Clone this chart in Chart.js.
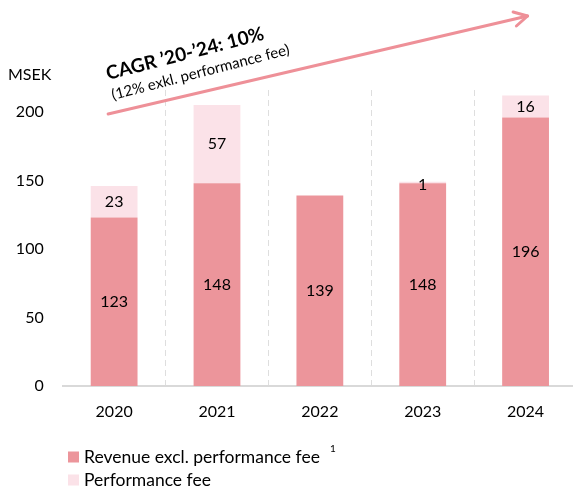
<!DOCTYPE html>
<html><head><meta charset="utf-8">
<script src="https://cdn.jsdelivr.net/npm/chart.js@4"></script>
<style>html,body{margin:0;padding:0;overflow:hidden;background:#fff}#wrap{width:580px;height:490px}</style>
</head><body><div id="wrap"><canvas id="c" width="580" height="490"></canvas></div>
<script>
const categories = ['2020', '2021', '2022', '2023', '2024'];
const revenueExclFee = [123, 148, 139, 148, 196];
const performanceFee = [23, 57, null, 1, 16];
const yTicks = [0, 50, 100, 150, 200];
const seriesNames = ['Revenue excl. performance fee', 'Performance fee'];
const unitLabel = 'MSEK';
const cagrTitle = 'CAGR \u201920-\u201924: 10%';
const cagrSub = '(12% exkl. performance fee)';
const footnoteMark = '1';

const FONT = 'Lato';
const C_MAIN = '#EC959B';
const C_FEE = '#FBE2E8';

const labelsPlugin = {
  id: 'barLabels',
  afterDatasetsDraw(chart) {
    const ctx = chart.ctx;
    ctx.save();
    ctx.font = '16px ' + FONT;
    ctx.fillStyle = '#000';
    ctx.textAlign = 'center';
    ctx.textBaseline = 'middle';
    chart.data.datasets.forEach((ds, di) => {
      const meta = chart.getDatasetMeta(di);
      meta.data.forEach((el, i) => {
        const v = ds.data[i];
        if (v === null || v === undefined) return;
        ctx.fillText(String(v), el.x, (di === 1 && v < 5) ? el.y + 3 : (el.y + el.base) / 2);
      });
    });
    ctx.restore();
  }
};

const decoPlugin = {
  id: 'deco',
  afterDraw(chart) {
    const ctx = chart.ctx;
    const xs = chart.scales.x, ys = chart.scales.y;
    ctx.save();
    // unit label
    ctx.font = '16px ' + FONT;
    ctx.fillStyle = '#000';
    ctx.textAlign = 'left';
    ctx.textBaseline = 'middle';
    ctx.fillText(unitLabel, 8, 75);

    // CAGR arrow
    const x1 = xs.getPixelForValue(0) - 6, y1 = ys.getPixelForValue(198.5);
    const x2 = xs.getPixelForValue(4) + 2, y2 = ys.getPixelForValue(270);
    ctx.strokeStyle = '#EE9098';
    ctx.lineWidth = 3;
    ctx.lineCap = 'round';
    ctx.lineJoin = 'round';
    ctx.beginPath();
    ctx.moveTo(x1, y1);
    ctx.lineTo(x2, y2);
    ctx.stroke();
    const ang = Math.atan2(y2 - y1, x2 - x1);
    const L = 15, spread = 0.5;
    ctx.beginPath();
    ctx.moveTo(x2 - L * Math.cos(ang - spread), y2 - L * Math.sin(ang - spread));
    ctx.lineTo(x2, y2);
    ctx.lineTo(x2 - L * Math.cos(ang + spread), y2 - L * Math.sin(ang + spread));
    ctx.stroke();

    // CAGR texts
    const rot = -14.5 * Math.PI / 180;
    ctx.fillStyle = '#000';
    ctx.textBaseline = 'alphabetic';
    ctx.save();
    ctx.translate(108, 80);
    ctx.rotate(rot);
    ctx.font = 'bold 19px ' + FONT;
    ctx.fillText(cagrTitle, 0, 0);
    ctx.restore();
    ctx.save();
    ctx.translate(113, 100);
    ctx.rotate(rot);
    ctx.font = '15px ' + FONT;
    ctx.fillText(cagrSub, 0, 0);
    ctx.restore();

    // legend
    const rows = [[seriesNames[0], C_MAIN, 457], [seriesNames[1], C_FEE, 480]];
    ctx.font = '17.5px ' + FONT;
    ctx.textBaseline = 'middle';
    rows.forEach(([t, c, y]) => {
      ctx.fillStyle = c;
      ctx.fillRect(68, y - 5.5, 11, 11);
      ctx.fillStyle = '#000';
      ctx.fillText(t, 84, y);
    });
    const w0 = ctx.measureText(seriesNames[0]).width;
    ctx.font = '10px ' + FONT;
    ctx.fillText(footnoteMark, 84 + w0 + 10, 449);
    ctx.restore();
  }
};

new Chart(document.getElementById('c'), {
  type: 'bar',
  data: {
    labels: categories,
    datasets: [
      { label: seriesNames[0], data: revenueExclFee, backgroundColor: C_MAIN, categoryPercentage: 1, barPercentage: 0.455 },
      { label: seriesNames[1], data: performanceFee, backgroundColor: C_FEE, categoryPercentage: 1, barPercentage: 0.455 }
    ]
  },
  options: {
    responsive: false,
    animation: false,
    devicePixelRatio: 1,
    layout: { padding: { top: 90, bottom: 64, left: 0, right: 3 } },
    plugins: { legend: { display: false }, tooltip: { enabled: false } },
    scales: {
      x: {
        stacked: true,
        grid: {
          drawTicks: false,
          lineWidth: 1,
          color: (c) => (c.index === undefined || c.index === 0) ? 'rgba(0,0,0,0)' : '#DEDEDE'
        },
        border: { display: true, color: '#D9D9D9', width: 2, dash: [6, 4] },
        ticks: { color: '#000', font: { family: FONT, size: 16 }, padding: 16 },
        afterFit: (s) => { s.height = 40; }
      },
      y: {
        stacked: true,
        min: 0,
        max: 216,
        afterBuildTicks: (s) => { s.ticks = yTicks.map(v => ({ value: v })); },
        grid: { display: false, drawTicks: false },
        border: { display: false },
        ticks: { color: '#000', font: { family: FONT, size: 16 }, padding: 19 },
        afterFit: (s) => { s.width = 62.7; }
      }
    }
  },
  plugins: [labelsPlugin, decoPlugin]
});
</script></body></html>
